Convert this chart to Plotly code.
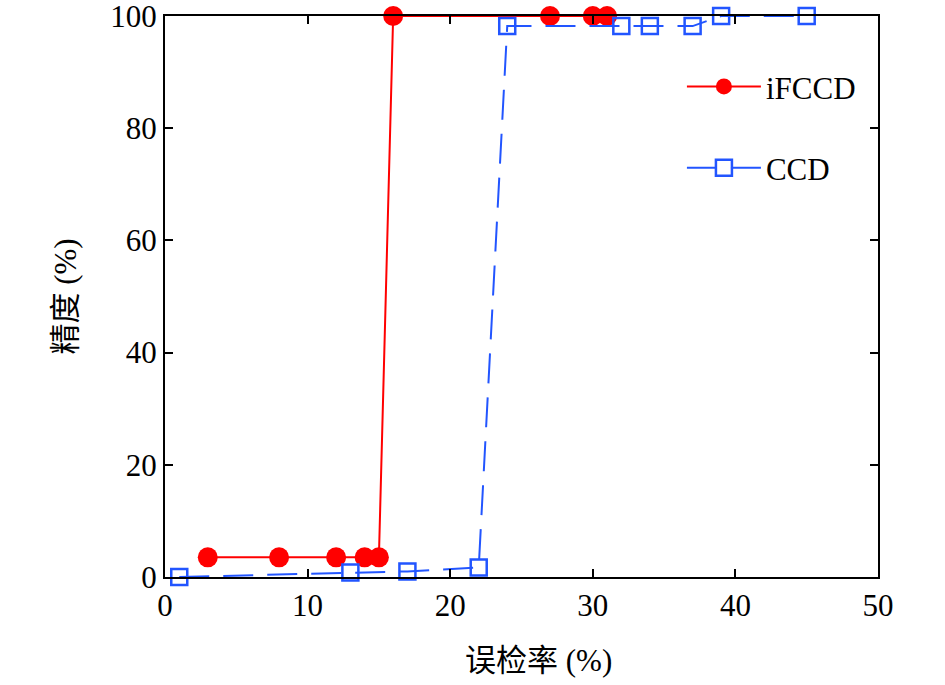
import plotly.graph_objects as go

# iFCCD
ifccd_x = [3, 8, 12, 14, 15, 16, 27, 30, 31]
ifccd_y = [3.5, 3.5, 3.5, 3.5, 3.5, 100, 100, 100, 100]

# CCD
ccd_x = [1, 13, 17, 22, 24, 32, 34, 37, 39, 45]
ccd_y = [0, 0.8, 1.0, 1.7, 98.2, 98.2, 98.2, 98.2, 100, 100]

x_ticks = [0, 10, 20, 30, 40, 50]
y_ticks = [0, 20, 40, 60, 80, 100]

RED = '#ff0000'
BLUE = '#2255ff'
FONT = 'Liberation Serif, Times New Roman, Noto Sans CJK SC, serif'
FS = 31

fig = go.Figure()
fig.add_trace(go.Scatter(
    x=ifccd_x, y=ifccd_y, mode='lines+markers', name='iFCCD',
    line=dict(color=RED, width=2),
    marker=dict(symbol='circle', size=20, color=RED),
    cliponaxis=False, legendgroup='a',
))
fig.add_trace(go.Scatter(
    x=ccd_x, y=ccd_y, mode='lines+markers', name='CCD',
    line=dict(color=BLUE, width=2, dash='30px,14px'),
    marker=dict(symbol='square-open', size=16, color=BLUE, line=dict(width=2.5, color=BLUE)),
    cliponaxis=False, legendgroup='b',
))

axis_common = dict(
    showgrid=False, zeroline=False, showline=True, linecolor='black', linewidth=2,
    mirror='ticks', ticks='inside', ticklen=8, tickwidth=2, tickcolor='black',
    tickfont=dict(family=FONT, size=FS, color='black'), automargin=False,
    ticklabeloverflow='allow',
)

fig.update_layout(
    width=945, height=685,
    paper_bgcolor='white', plot_bgcolor='white',
    margin=dict(l=165, r=67, t=16, b=108),
    font=dict(family=FONT, size=FS, color='black'),
    xaxis=dict(range=[0, 50], tickvals=x_ticks, **axis_common),
    yaxis=dict(range=[0, 100], tickvals=y_ticks,
               title=dict(text='精度 (%)', font=dict(family=FONT, size=FS), standoff=24),
               **axis_common),
    legend=dict(x=0.725, y=0.922, xanchor='left', yanchor='top', itemwidth=74,
                bgcolor='rgba(0,0,0,0)', traceorder='grouped', tracegroupgap=38,
                font=dict(family=FONT, size=FS)),
)

# x title sits a little right of centre in the original
fig.add_annotation(text='误检率 (%)', xref='paper', yref='paper', x=0.5, y=0,
                   xanchor='center', yanchor='middle', xshift=17, yshift=-83,
                   showarrow=False, font=dict(family=FONT, size=FS))

# drop the default page margin so the figure fills the window
fig.write_html('out.html', config={'displayModeBar': False},
               post_script="document.body.style.margin='0';")
